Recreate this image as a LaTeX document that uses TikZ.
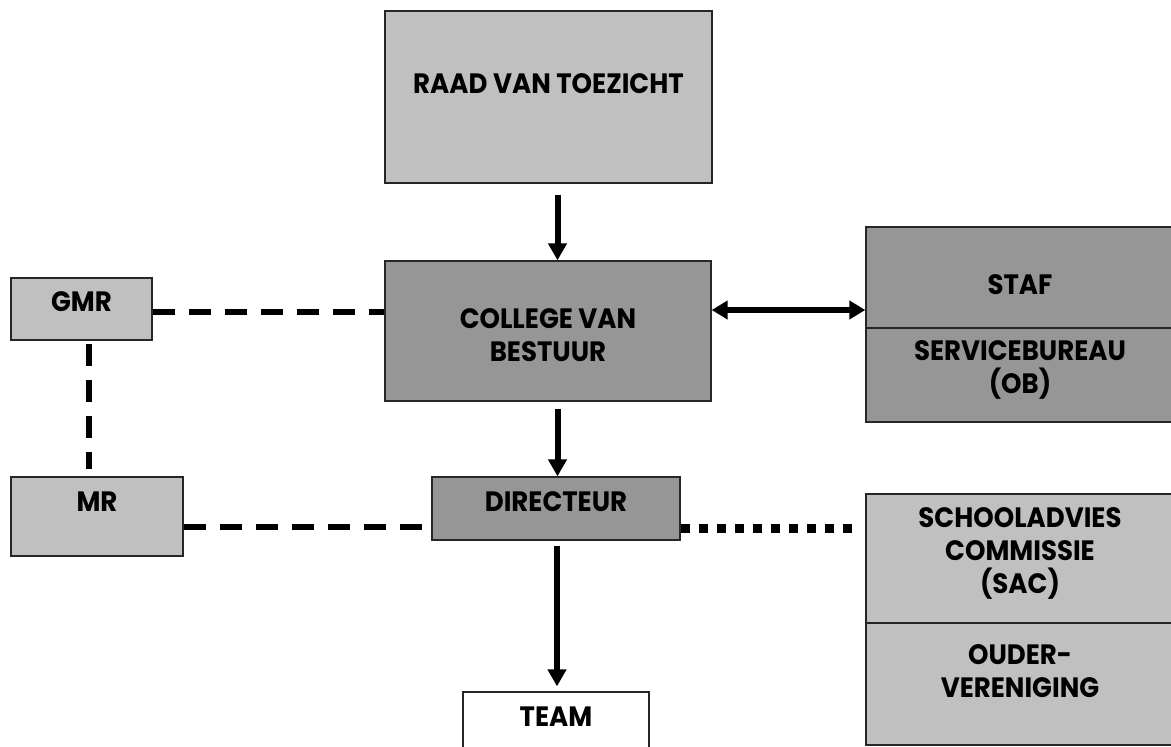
\documentclass[tikz,border=0pt]{standalone}
\usepackage{fontspec}
\setmainfont{Poppins}[FakeStretch=0.93]
\usetikzlibrary{arrows.meta,calc}
\definecolor{lgrey}{RGB}{192,192,192}
\definecolor{dgrey}{RGB}{150,150,150}
\begin{document}
\begin{tikzpicture}[x=1pt,y=-1pt,
  box/.style={draw=black!85,line width=1.3pt,inner sep=0pt},
  light/.style={box,fill=lgrey},
  dark/.style={box,fill=dgrey},
  lbl/.style={font=\bfseries\fontsize{28}{33}\selectfont,align=center,inner sep=0pt,text=black},
  arr/.style={line width=6pt,-{Triangle[width=18pt,length=17pt]}},
  dbl/.style={line width=6pt,{Triangle[width=18pt,length=16pt]}-{Triangle[width=18pt,length=16pt]}},
  dsh/.style={line width=6pt,dash pattern=on 22pt off 14pt},
  dotl/.style={line width=9pt,dash pattern=on 9pt off 9pt}]
\useasboundingbox (0,0) rectangle (1171,747);
% boxes
\node[light,minimum width=327pt,minimum height=172pt] (raad) at (548.5,97) {};
\node[lbl] (raadT) at (548.5,84) {RAAD VAN TOEZICHT};
\node[dark,minimum width=326pt,minimum height=140pt] (college) at (548,331) {};
\node[lbl] (collegeT) at (548,335.5) {COLLEGE VAN\\BESTUUR};
\node[light,minimum width=141pt,minimum height=62pt] (gmr) at (81.5,309) {};
\node[lbl] (gmrT) at (81.5,302) {GMR};
\node[light,minimum width=172pt,minimum height=79pt] (mr) at (97,516.5) {};
\node[lbl] (mrT) at (97,502) {MR};
\node[dark,minimum width=248pt,minimum height=63pt] (dir) at (556,508.5) {};
\node[lbl] (dirT) at (556,502) {DIRECTEUR};
\node[box,fill=white,minimum width=186pt,minimum height=78pt] (team) at (556,731) {};
\node[lbl] (teamT) at (556,717) {TEAM};
\node[dark,minimum width=308pt,minimum height=101pt] (staf) at (1020,277.5) {};
\node[lbl] (stafT) at (1020,285) {STAF};
\node[dark,minimum width=308pt,minimum height=94pt] (sb) at (1020,375) {};
\node[lbl] (sbT) at (1020,370) {SERVICEBUREAU\\(OB)};
\node[light,minimum width=308pt,minimum height=129pt] (sac) at (1020,558.5) {};
\node[lbl] (sacT) at (1020,553) {SCHOOLADVIES\\COMMISSIE\\(SAC)};
\node[light,minimum width=308pt,minimum height=122pt] (ouder) at (1020,684) {};
\node[lbl] (ouderT) at (1020,671) {OUDER-\\VERENIGING};
% connectors
\draw[arr] ($(raad.south -| dir.north)+(1.5,11)$) -- ($(college.north -| dir.north)+(1.5,0)$);
\draw[arr] ($(college.south -| dir.north)+(1.5,7)$) -- ($(dir.north)+(1.5,0)$);
\draw[arr] ($(dir.south)+(1,5)$) -- ($(team.north)+(1,-5)$);
\draw[dbl] ($(college.east)+(0,-21)$) -- ($(staf.west)+(0,32.5)$);
\draw[dsh] ($(gmr.east)+(0,3)$) -- ($(college.west)+(0,-19)$);
\draw[dsh] ($(gmr.south)+(7.5,3)$) -- ($(mr.north)+(-8,-7)$);
\draw[dsh] ($(mr.east)+(0,10.5)$) -- ($(dir.west)+(0,18.5)$);
\draw[dotl] ($(dir.east)+(0,19.5)$) -- ($(sac.west)+(-8,-30.5)$);
\end{tikzpicture}
\end{document}
